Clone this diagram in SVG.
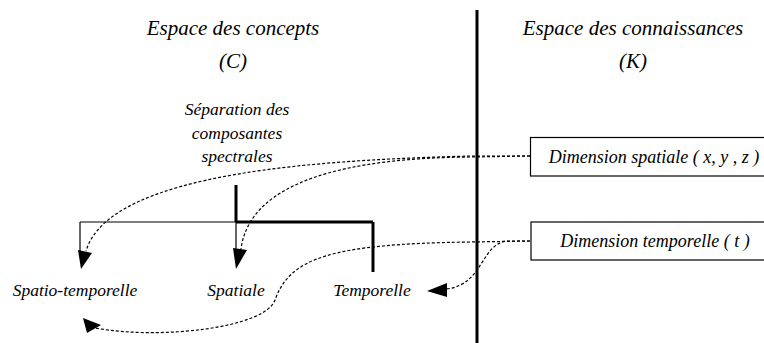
<svg xmlns="http://www.w3.org/2000/svg" width="764" height="343" viewBox="0 0 764 343">
<style>
text { font-family: "Liberation Serif", "Times New Roman", Times, "DejaVu Serif", serif; font-style: italic; fill: #000; text-anchor: middle; }
.title { font-size: 21px; }
.lbl { font-size: 17.5px; }
.box { fill: #fff; stroke: #000; stroke-width: 1.2; }
.thin { stroke: #000; stroke-width: 1.2; fill: none; }
.thick { stroke: #000; stroke-width: 3; fill: none; }
.dash { stroke: #000; stroke-width: 1.2; fill: none; stroke-dasharray: 3 2; }
.head { fill: #000; stroke: none; }
</style>
<rect width="764" height="343" fill="#fff"/>
<g id="title-concepts">
<text class="title" x="233" y="35" font-family="Liberation Serif, serif">Espace des concepts</text>
<text class="title" x="233" y="68">(C)</text>
</g>
<g id="title-connaissances">
<text class="title" x="633" y="35">Espace des connaissances</text>
<text class="title" x="633" y="68">(K)</text>
</g>
<g id="divider">
<line class="thick" x1="477" y1="10" x2="477" y2="343" stroke-width="2.5"/>
</g>
<g id="node-separation">
<text class="lbl" x="237" y="115">Séparation des</text>
<text class="lbl" x="237" y="139">composantes</text>
<text class="lbl" x="237" y="162">spectrales</text>
</g>
<g id="node-spatio-temporelle">
<text class="lbl" x="75" y="296">Spatio-temporelle</text>
</g>
<g id="node-spatiale">
<text class="lbl" x="236" y="296">Spatiale</text>
</g>
<g id="node-temporelle">
<text class="lbl" x="372" y="296">Temporelle</text>
</g>
<g id="node-dim-spatiale">
<rect class="box" x="530.5" y="137.5" width="240" height="38.5"/>
<text class="lbl" x="654" y="163" style="font-size:18px">Dimension spatiale ( x, y , z )</text>
</g>
<g id="node-dim-temporelle">
<rect class="box" x="531" y="222" width="240" height="38"/>
<text class="lbl" x="655" y="247" style="font-size:18px">Dimension temporelle ( t )</text>
</g>
<g id="connectors">
<line class="thick" x1="236" y1="185" x2="236" y2="222"/>
<line class="thin" x1="80" y1="222" x2="236" y2="222"/>
<line class="thick" x1="236" y1="222" x2="373" y2="222"/>
<line class="thick" x1="373" y1="222" x2="373" y2="272"/>
<line class="thin" x1="80" y1="222" x2="80" y2="252"/>
<polygon class="head" points="78,250 92,253 81,269"/>
<line class="thin" x1="236" y1="222" x2="236" y2="250"/>
<polygon class="head" points="233,248 247,250 236,269"/>
<path class="dash" d="M530,156 L470,156 C330,160 110,170 86,251"/>
<path class="dash" d="M530,156 L470,157 C350,158 250,180 241,249"/>
<path class="dash" d="M530,241 L470,242 C330,244 290,258 275,300 C265,328 160,340 95,328"/>
<polygon class="head" points="83,318 87,333 101,325"/>
<path class="dash" d="M530,241 L510,241 C480,241 485,285 446,289"/>
<polygon class="head" points="427,291 447,283 447,297"/>
</g>
</svg>
